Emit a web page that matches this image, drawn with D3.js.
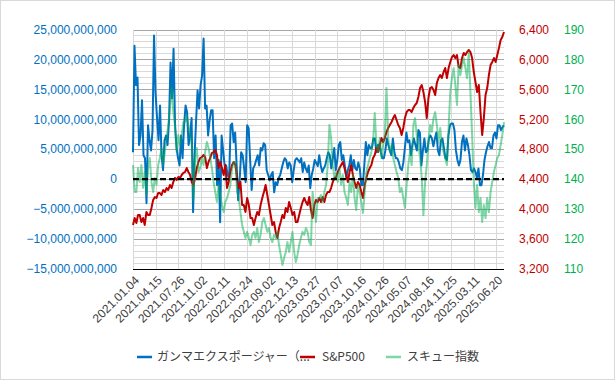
<!DOCTYPE html>
<html><head><meta charset="utf-8">
<script src="https://cdn.jsdelivr.net/npm/d3@7"></script>
<style>
html,body{margin:0;padding:0;background:#fff;}
svg{display:block;font-family:"Liberation Sans",Arial,sans-serif;}
</style></head>
<body><div id="chart"></div>
<script>
// ---- data ----
const tickLabels = ["2021.01.04","2021.04.15","2021.07.26","2021.11.02","2022.02.11","2022.05.24","2022.09.02","2022.12.13","2023.03.27","2023.07.07","2023.10.16","2024.01.26","2024.05.07","2024.08.16","2024.11.25","2025.03.11","2025.06.20"];
const totalDays = 1145;       // number of trading-day categories
const tickEvery = 70;         // label interval (categories)
const seriesNames = ["ガンマエクスポージャー（...", "S&P500", "スキュー指数"];
// gamma exposure, billions (sampled evenly across the whole period)
const gamma = [4.5,22.3,15.7,17.0,5.7,7.3,13.2,4.0,3.5,-4.0,9.0,6.5,4.8,8.2,24.0,14.5,10.2,6.5,12.3,4.0,
 1.5,6.5,7.3,5.7,9.8,19.5,13.5,21.8,9.0,5.2,3.5,2.3,7.3,3.5,9.0,12.3,11.2,5.7,7.3,10.2,
 -5.5,4.0,9.8,14.8,11.8,15.7,17.3,23.5,11.8,12.3,7.3,9.8,11.5,11.5,3.5,7.3,-1.0,3.2,-7.2,7.3,
 4.8,2.3,
 2.3,0.7,0.2,9.0,9.3,6.2,7.8,2.3,-3.5,-0.2,4.5,4.0,1.8,-0.5,9.0,8.5,3.2,-1.8,1.8,2.3,
 3.2,4.0,2.3,5.2,4.8,6.0,5.7,1.5,0.7,-0.2,0.7,1.2,-2.2,-0.5,-1.0,0.2,0.7,1.8,2.8,3.5,
 3.2,1.8,2.8,2.3,-0.5,1.5,3.2,3.5,3.2,2.8,3.5,1.2,2.8,1.8,1.2,2.3,-1.5,0.7,1.8,3.2,
 2.7,2.2,4.0,2.3,1.2,1.8,2.3,3.5,4.5,4.0,1.8,3.5,5.2,1.5,3.2,5.7,6.2,3.2,4.0,2.3,
 0.2,1.5,2.3,4.0,1.5,3.2,1.8,1.5,2.8,1.8,-1.0,-1.0,2.3,6.2,4.0,5.7,5.2,5.2,6.8,6.8,
 4.5,5.7,5.7,4.5,3.5,3.5,4.8,6.8,5.7,4.8,4.0,6.8,4.5,3.5,3.5,2.8,1.8,1.5,2.8,5.2,
 7.8,6.2,
 6.5,4.0,5.7,6.8,5.7,4.8,8.2,7.8,2.3,4.8,6.8,4.5,4.8,6.8,7.3,6.8,5.5,6.8,7.8,4.8,
 4.0,6.5,6.8,5.2,3.5,3.2,7.3,9.0,9.3,9.3,8.2,4.8,3.2,2.3,3.2,6.2,7.3,4.8,6.8,5.7,
 4.0,1.5,1.2,1.8,1.2,0.2,1.8,-1.0,-1.0,0.7,3.2,4.5,5.5,6.2,5.2,5.2,7.3,7.8,6.8,9.0,
 9.0,8.2,8.7,9.0];
const sp500 = [3788,3881,3815,3921,3921,3828,3881,3788,3962,3921,3921,4015,4122,4162,4149,4215,4215,4189,4255,4229,
 4282,4255,4322,4282,4362,4416,4389,4429,4416,4456,4483,4496,4549,4496,4456,4362,4322,4416,4549,4630,
 4683,4696,4723,4696,4549,4630,4683,4750,4763,4790,4723,4549,4630,4549,4456,4589,
 4282,4362,4496,4589,4630,4589,4416,4282,4362,4055,4055,3962,4149,4055,3881,3881,3788,3881,3962,3921,
 4055,4149,4229,4322,4189,4055,3921,3788,3828,3694,3614,3748,3828,3921,3881,4015,3962,4095,4015,3921,
 3962,3828,3828,3921,4015,4095,4149,4095,4055,4162,3988,3881,4055,4122,
 4095,4149,4095,4162,4095,4189,4229,4229,4282,4362,4416,4429,4496,4549,4589,4630,4549,4456,4362,4496,
 4589,4456,4362,4282,4362,4322,4229,4149,4322,4416,4496,4549,4589,4683,4723,4817,4763,4857,4950,4897,
 4950,5030,5084,5124,5164,5217,5257,5191,5124,5084,4990,5084,5217,5298,5324,
 5324,5298,5351,5391,5418,5498,5618,5658,5565,5431,5217,5485,5618,5632,5591,5525,5685,5752,5792,5752,
 5832,5885,5752,5885,5966,6032,6059,6019,6059,5899,5885,6019,6086,6059,6099,6126,6099,6019,5832,5698,
 5565,5658,5298,4990,5217,5525,5618,5792,5925,5966,6019,5966,6059,6153,6259,6300,6366];
const skew = [144.7,135.7,135.7,143.7,139.1,144.7,137.1,142.4,134.7,143.7,147.1,139.1,135.7,140.4,138.1,144.7,147.1,150.4,144.7,149.1,
 153.8,158.1,163.8,170.5,162.4,158.1,149.1,154.8,151.4,154.8,159.1,159.1,161.4,158.1,154.8,151.4,133.0,147.1,150.4,142.4,
 143.7,147.1,144.7,149.1,152.4,150.4,147.1,143.7,139.1,135.7,132.4,138.1,134.7,131.4,129.0,132.4,
 133.7,135.7,138.1,143.7,145.7,145.7,135.7,133.7,129.0,124.7,122.4,120.4,122.4,120.4,118.0,121.4,122.4,120.4,123.7,119.0,
 121.4,125.7,127.0,124.7,122.4,123.7,120.4,119.0,121.4,120.4,122.4,118.0,114.7,111.3,113.7,115.7,119.0,115.7,119.0,122.4,
 115.7,112.3,114.7,118.0,120.4,122.4,121.4,123.7,122.4,119.0,118.0,135.7,130.4,125.7,
 133.7,133.7,134.7,132.4,135.7,138.1,144.7,158.1,153.8,144.7,140.4,142.4,139.1,143.7,138.1,141.4,135.7,133.7,131.4,139.1,
 135.7,141.4,133.7,129.7,138.1,135.7,132.4,128.7,135.7,142.4,144.7,147.1,149.1,152.4,162.1,151.4,149.1,153.8,147.1,151.4,
 154.8,170.5,153.8,149.1,151.4,147.1,144.7,142.4,140.4,135.7,137.1,133.7,130.4,138.1,144.7,
 149.1,144.7,158.1,160.4,154.8,151.4,147.1,140.4,128.0,139.1,144.7,152.4,158.1,155.8,160.4,162.4,158.1,152.4,157.1,151.4,
 149.1,147.1,144.7,157.1,169.1,173.8,177.1,171.5,164.8,178.1,174.8,178.1,180.5,177.1,173.8,182.5,169.1,154.8,139.1,130.4,
 138.1,129.0,133.7,125.7,131.4,127.0,133.7,129.0,135.7,139.1,142.4,144.7,147.1,148.1,151.4,154.8,159.1];
const leftTicks = [-15,-10,-5,0,5,10,15,20,25];         // billions
const spTicks = [3200,3600,4000,4400,4800,5200,5600,6000,6400];
const skewTicks = [110,120,130,140,150,160,170,180,190];

// ---- layout ----
const W = 615, H = 380;
const plot = {l:133, r:504, t:29.5, b:269};
const svg = d3.select("#chart").append("svg").attr("width",W).attr("height",H);
svg.append("rect").attr("x",0.5).attr("y",0.5).attr("width",W-1).attr("height",H-1)
  .attr("fill","#fff").attr("stroke","#d9d9d9");

const x = d3.scaleLinear().domain([0,totalDays-1]).range([plot.l,plot.r]);
const yL = d3.scaleLinear().domain([-15,25]).range([plot.b,plot.t]);
const yS = d3.scaleLinear().domain([3200,6400]).range([plot.b,plot.t]);
const yK = d3.scaleLinear().domain([110,190]).range([plot.b,plot.t]);

const dayOf = (i,n) => i*(totalDays-1)/(n-1);

// grid: minor horizontal every 1B, major every 5B
const minor = d3.range(-15,26,1).filter(v=>v%5!==0);
svg.append("g").selectAll("line").data(minor).join("line")
  .attr("x1",plot.l).attr("x2",plot.r).attr("y1",d=>Math.round(yL(d))+0.5).attr("y2",d=>Math.round(yL(d))+0.5)
  .attr("stroke","#d9d9d9").attr("stroke-width",1);
svg.append("g").selectAll("line").data(leftTicks).join("line")
  .attr("x1",plot.l).attr("x2",plot.r).attr("y1",d=>Math.round(yL(d))+0.5).attr("y2",d=>Math.round(yL(d))+0.5)
  .attr("stroke","#a6a6a6").attr("stroke-width",1);
// vertical grid
const tickIdx = tickLabels.map((d,i)=>i*tickEvery);
svg.append("g").selectAll("line").data(tickIdx).join("line")
  .attr("x1",d=>Math.round(x(d))+0.5).attr("x2",d=>Math.round(x(d))+0.5).attr("y1",plot.t).attr("y2",plot.b)
  .attr("stroke","#d9d9d9").attr("stroke-width",1);

// left axis
const fmtL = v => d3.format(",")(v*1e9);
svg.append("g").selectAll("text").data(leftTicks).join("text")
  .attr("x",117).attr("y",d=>yL(d)).attr("dy","0.35em").attr("text-anchor","end")
  .attr("font-size",12).attr("fill","#0070c0").text(fmtL);
// right axes
svg.append("g").selectAll("text").data(spTicks).join("text")
  .attr("x",519).attr("y",d=>yS(d)).attr("dy","0.35em")
  .attr("font-size",12).attr("fill","#c00000").text(d3.format(","));
svg.append("g").selectAll("text").data(skewTicks).join("text")
  .attr("x",564).attr("y",d=>yK(d)).attr("dy","0.35em")
  .attr("font-size",12).attr("fill","#00b050").text(d=>d);

// x labels
svg.append("g").selectAll("text").data(tickIdx).join("text")
  .attr("transform",d=>`translate(${x(d)+4},${278}) rotate(-45)`)
  .attr("text-anchor","end").attr("dy","0.35em")
  .attr("font-size",12).attr("fill","#404040").text((d,i)=>tickLabels[i]);

// series
const g = svg.append("g");
const mkLine = (arr, y) => d3.line().x((d,i)=>x(dayOf(i,arr.length))).y(d=>y(d));
g.append("path").datum(gamma).attr("fill","none").attr("stroke","#0070c0").attr("stroke-width",2)
  .attr("stroke-linejoin","round").attr("d",mkLine(gamma,yL));
g.append("path").datum(sp500).attr("fill","none").attr("stroke","#c00000").attr("stroke-width",2)
  .attr("stroke-linejoin","round").attr("d",mkLine(sp500,yS));
g.append("path").datum(skew).attr("fill","none").attr("stroke","#00b050").attr("stroke-opacity",0.5).attr("stroke-width",2)
  .attr("stroke-linejoin","round").attr("d",mkLine(skew,yK));
// zero line
svg.append("line").attr("x1",plot.l).attr("x2",plot.r).attr("y1",yL(0)).attr("y2",yL(0))
  .attr("stroke","#000").attr("stroke-width",2.2).attr("stroke-dasharray","6,3");
// bottom axis line
svg.append("line").attr("x1",plot.l).attr("x2",plot.r).attr("y1",plot.b+0.5).attr("y2",plot.b+0.5)
  .attr("stroke","#000").attr("stroke-width",1);

// legend
const lg = svg.append("g").attr("font-size",12).attr("fill","#404040");
const legendItems = [
  {name:seriesNames[0], color:"#0070c0", op:1, x0:137, tx:157},
  {name:seriesNames[1], color:"#c00000", op:1, x0:300, tx:322},
  {name:seriesNames[2], color:"#00b050", op:0.5, x0:386, tx:407}
];
legendItems.forEach(it=>{
  lg.append("text").attr("x",it.tx).attr("y",357).attr("dy","0.35em")
    .attr("font-family",'"Noto Sans CJK JP","Liberation Sans",sans-serif')
    .attr("fill","#404040").text(it.name);
});
legendItems.forEach(it=>{
  lg.append("line").attr("x1",it.x0).attr("x2",it.x0+15).attr("y1",357).attr("y2",357)
    .attr("stroke",it.color).attr("stroke-opacity",it.op).attr("stroke-width",2.5);
});
</script></body></html>
